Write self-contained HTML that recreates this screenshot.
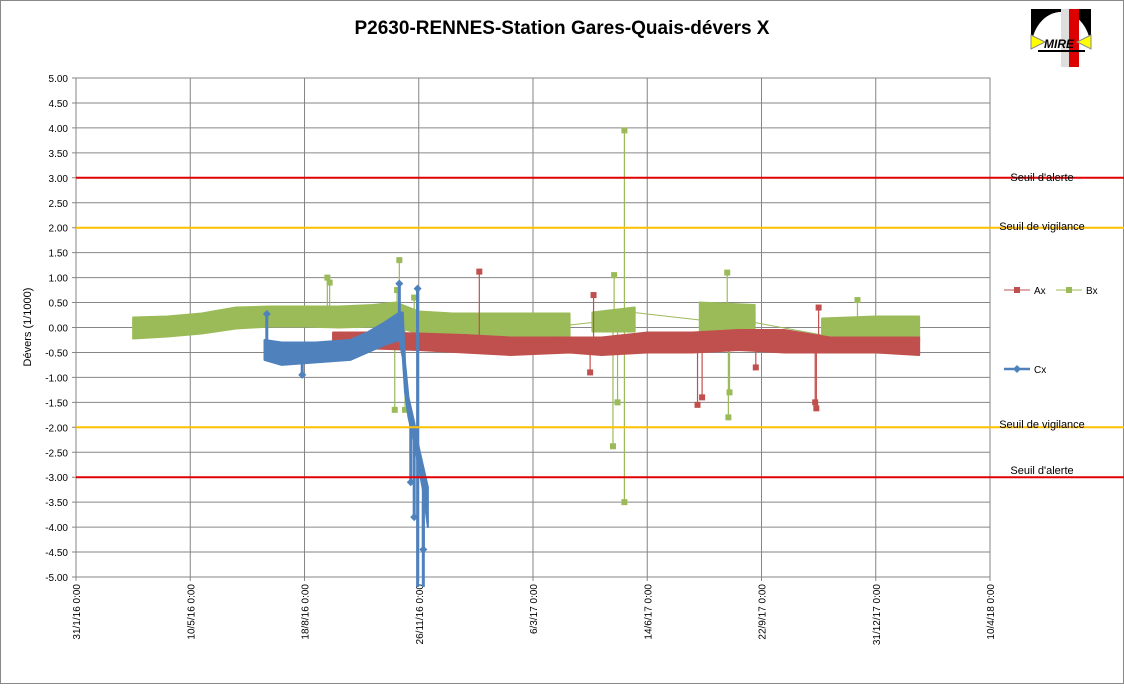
<!DOCTYPE html>
<html><head><meta charset="utf-8"><style>
body{margin:0;background:#fff;font-family:"Liberation Sans",sans-serif}
</style></head><body>
<svg width="1124" height="684" xmlns="http://www.w3.org/2000/svg" id="svg">
<rect x="0.5" y="0.5" width="1123" height="683" fill="#fff" stroke="#888"/>
<text x="562" y="34" text-anchor="middle" font-size="19" font-weight="bold" fill="#000">P2630-RENNES-Station Gares-Quais-dévers X</text>
<g>
<rect x="1031" y="9" width="60" height="56" fill="#000"/>
<ellipse cx="1061" cy="50" rx="30" ry="38" fill="#fff"/>
<rect x="1031" y="50" width="60" height="18" fill="#fff"/>
<rect x="1061" y="9" width="8" height="58" fill="#ddd"/>
<rect x="1069" y="9" width="10" height="58" fill="#d00"/>
<polygon points="1031,35 1045,42 1031,49" fill="#ff0" stroke="#888"/>
<polygon points="1091,35 1077,42 1091,49" fill="#ff0" stroke="#888"/>
<text x="1044" y="48" font-size="12" font-weight="bold" font-style="italic" fill="#000">MIRE</text>
<rect x="1038" y="50" width="47" height="2" fill="#000"/>
</g>
<g id="plot"></g>
</svg>
<script>
const yTicks=[5,4.5,4,3.5,3,2.5,2,1.5,1,0.5,0,-0.5,-1,-1.5,-2,-2.5,-3,-3.5,-4,-4.5,-5];
const xTickLabels=["31/1/16 0:00","10/5/16 0:00","18/8/16 0:00","26/11/16 0:00","6/3/17 0:00","14/6/17 0:00","22/9/17 0:00","31/12/17 0:00","10/4/18 0:00"];
const xTickDays=[0,100,200,300,400,500,600,700,800];
const thresholds=[{v:3,c:"#e00000",label:"Seuil d'alerte",ly:177},{v:2,c:"#ffc000",label:"Seuil de vigilance",ly:226},{v:-2,c:"#ffc000",label:"Seuil de vigilance",ly:424},{v:-3,c:"#e00000",label:"Seuil d'alerte",ly:470}];
// bands: segments of [day, low, high]
const bxBand=[[[50,-0.22,0.2],[80,-0.18,0.22],[110,-0.12,0.28],[140,-0.02,0.4],[170,0.02,0.42],[200,0.02,0.42],[230,0,0.42],[260,0.02,0.45],[280,0.02,0.5],[300,-0.12,0.32],[330,-0.18,0.28],[360,-0.22,0.28],[400,-0.22,0.28],[432,-0.18,0.28]],[[452,-0.08,0.3],[489,-0.08,0.4]],[[546,-0.08,0.5],[594,-0.22,0.45]],[[653,-0.32,0.18],[700,-0.28,0.22],[738,-0.28,0.22]]];
const axBand=[[[225,-0.45,-0.1],[260,-0.42,-0.1],[300,-0.45,-0.12],[340,-0.5,-0.15],[380,-0.55,-0.2],[432,-0.5,-0.2],[460,-0.55,-0.2],[500,-0.5,-0.1],[540,-0.5,-0.1],[580,-0.45,-0.05],[620,-0.5,-0.05],[660,-0.5,-0.2],[700,-0.5,-0.2],[738,-0.55,-0.2]]];
const cxBand=[[[165,-0.65,-0.25],[180,-0.75,-0.3],[210,-0.7,-0.3],[240,-0.65,-0.25],[255,-0.5,-0.1],[270,-0.35,0.1],[283,-0.25,0.3],[286,-0.6,0.3],[288,-1.3,-0.7],[291,-1.8,-1.4],[296,-2.3,-1.9],[300,-2.8,-2.4],[304,-3.3,-2.8],[308,-4.0,-3.2]]];
// gap connectors [d1,v1,d2,v2]
const bxLinks=[[432,0.05,452,0.1],[489,0.3,546,0.15],[594,0.1,653,-0.15]];
// spikes [day, base, value]
const bxSpikes=[[220,0.3,1.0],[222,0.3,0.9],[283,0.3,1.35],[281,0.3,0.75],[296,0.3,0.6],[279,0,-1.65],[288,0,-1.65],[471,0.1,1.05],[470,0,-2.38],[474,0,-1.5],[480,0.2,3.95],[480,0,-3.5],[570,0.3,1.1],[571,0,-1.8],[572,0,-1.3],[684,0.1,0.55]];
const axSpikes=[[353,-0.3,1.12],[453,-0.3,0.65],[450,-0.4,-0.9],[544,-0.4,-1.55],[548,-0.4,-1.4],[647,-0.4,-1.5],[648,-0.4,-1.62],[650,-0.3,0.4],[595,-0.4,-0.8]];
const cxSpikes=[[167,-0.3,0.27],[283,0.2,0.88],[299,0,0.78],[299,0.78,-5.2],[304,-3,-5.2],[296,-2,-3.8],[304,-3.5,-4.45],[198,-0.6,-0.95],[293,-1.8,-3.1]];

const X0=76,X1=990,Y0=78,Y1=577;
const xs=d=>X0+(d-0)*(X1-X0)/800;
const ys=v=>Y0+(5-v)*(Y1-Y0)/10;
const NS="http://www.w3.org/2000/svg";
const g=document.getElementById('plot');
function mk(t,a){const e=document.createElementNS(NS,t);for(const k in a)e.setAttribute(k,a[k]);g.appendChild(e);return e;}
let e=mk('rect',{x:X0,y:Y0,width:X1-X0,height:Y1-Y0,fill:'#fff',stroke:'#868686'});


yTicks.forEach(v=>{
 let l=mk('line',{x1:X0-4,x2:X1,y1:ys(v),y2:ys(v),stroke:'#868686','stroke-width':1});
 
 
 let t=mk('text',{x:X0-8,y:ys(v)+4,'text-anchor':'end','font-size':10,fill:'#000'});
 t.textContent=v.toFixed(2);
 
 
});
xTickDays.forEach((d,i)=>{
 let l=mk('line',{x1:xs(d),x2:xs(d),y1:Y0,y2:Y1+4,stroke:'#868686','stroke-width':1});
 
 
 let t=mk('text',{x:0,y:0,'text-anchor':'end','font-size':10,fill:'#000',transform:`translate(${xs(d)+4},${Y1+7}) rotate(-90)`});
 t.textContent=xTickLabels[i];
 
 
});
let yt=mk('text',{x:0,y:0,'text-anchor':'middle','font-size':11,fill:'#000',transform:`translate(31,327) rotate(-90)`});
yt.textContent='Dévers (1/1000)';


function band(segs,col,name){
 segs.forEach(s=>{
  const pts=s.map(p=>xs(p[0])+','+ys(p[2])).concat(s.slice().reverse().map(p=>xs(p[0])+','+ys(p[1])));
  let p=mk('polygon',{points:pts.join(' '),fill:col,stroke:col,'stroke-width':2,'stroke-linejoin':'round'});
  
  
 });
}
function spikes(arr,col,name,marker){
 arr.forEach(s=>{
  let l=mk('line',{x1:xs(s[0]),x2:xs(s[0]),y1:ys(s[1]),y2:ys(s[2]),stroke:col,'stroke-width':marker=='d'?3:1.2});
  
  
  if(s[2]>-5){
   const cx=xs(s[0]),cy=ys(s[2]);
   let m=marker=='d'?mk('polygon',{points:`${cx},${cy-4} ${cx+4},${cy} ${cx},${cy+4} ${cx-4},${cy}`,fill:col}):mk('rect',{x:cx-3,y:cy-3,width:6,height:6,fill:col});
   
   
  }
 });
}
bxLinks.forEach(k=>{let l=mk('line',{x1:xs(k[0]),y1:ys(k[1]),x2:xs(k[2]),y2:ys(k[3]),stroke:'#9bbb59','stroke-width':1});
 
 });
spikes(bxSpikes,'#9bbb59','bx-spike','s');
band(bxBand,'#9bbb59','bx-band');
spikes(axSpikes,'#c0504d','ax-spike','s');
band(axBand,'#c0504d','ax-band');
spikes(cxSpikes,'#4f81bd','cx-spike','d');
band(cxBand,'#4f81bd','cx-band');
thresholds.forEach(t=>{
 let l=mk('line',{x1:X0,x2:1124,y1:ys(t.v),y2:ys(t.v),stroke:t.c,'stroke-width':2});
 
 
 let tx=mk('text',{x:1042,y:t.ly+4,'text-anchor':'middle','font-size':11,fill:'#000'});
 tx.textContent=t.label;
 
 
});
const leg=[["Ax","#c0504d",1004,290,'s'],["Bx","#9bbb59",1056,290,'s'],["Cx","#4f81bd",1004,369,'d']];
leg.forEach(L=>{
 let l=mk('line',{x1:L[2],x2:L[2]+26,y1:L[3],y2:L[3],stroke:L[1],'stroke-width':L[4]=='d'?2.5:1});
 
 
 const cx=L[2]+13,cy=L[3];
 let m=L[4]=='d'?mk('polygon',{points:`${cx},${cy-4} ${cx+4},${cy} ${cx},${cy+4} ${cx-4},${cy}`,fill:L[1]}):mk('rect',{x:cx-3,y:cy-3,width:6,height:6,fill:L[1]});
 
 
 let t=mk('text',{x:L[2]+30,y:L[3]+4,'font-size':10,fill:'#000'});
 t.textContent=L[0];
 
 
});
</script>
</body></html>
